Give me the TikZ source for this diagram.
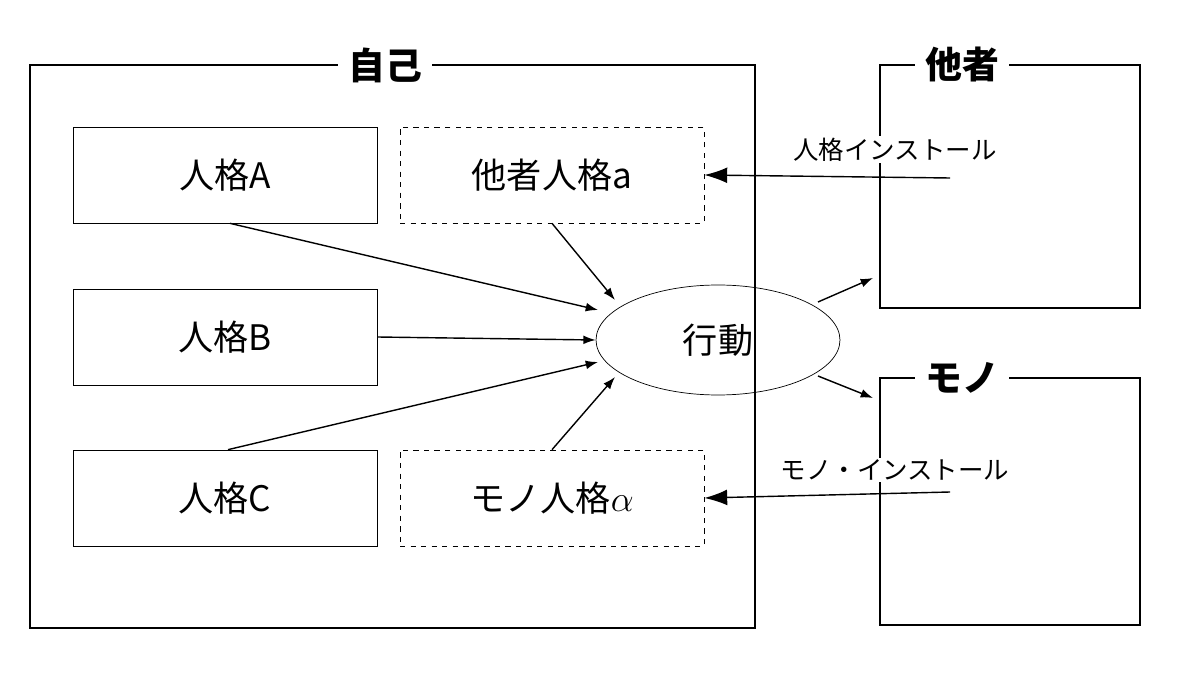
\documentclass[tikz,border=0pt]{standalone}
\usepackage{fontspec}
\newfontfamily\jp{Noto Sans CJK JP}
\usetikzlibrary{arrows,arrows.meta,shapes.geometric}
\tikzset{every picture/.style={
  >=latex'                      % LaTeX style arrows.
  }
}
\tikzset{
  persona/.style={draw,minimum width=6.08cm,minimum height=1.92cm,font=\jp\fontsize{20}{24}\selectfont},
  guest/.style={persona,dashed},
  frametitle/.style={fill=white,inner xsep=6pt,font=\jp\bfseries\fontsize{21}{24}\selectfont},
  install/.style={fill=white,inner sep=1pt,font=\jp\fontsize{14.5}{17}\selectfont},
  flow/.style={-{Latex[length=7pt,width=5pt]},thick},
  inject/.style={-{Latex[length=13pt,width=9pt]},thick},
}
\begin{document}
\begin{tikzpicture}[x=0.02cm,y=-0.02cm]
  \useasboundingbox (0,0) rectangle (1200,675);
  % frames
  \draw[thick] (30,65) rectangle (755,628);
  \draw[thick] (880,65) -- (1140,65) -- (1140,308) -- (880,308) -- cycle;
  \draw[thick] (880,378) -- (1140,378) -- (1140,625) -- (880,625) -- cycle;
  \node[frametitle] (self) at (385,65) {自己};
  \node[frametitle] (other) at (962,65) {他者};
  \node[frametitle] (thing) at (962,378) {モノ};
  % personas
  \node[persona] (pA) at (225,175) {人格A};
  \node[guest] (pa) at (552,175) {他者人格a};
  \node[persona] (pB) at (225,337) {人格B};
  \node[persona] (pC) at (225,498) {人格C};
  \node[guest] (palpha) at (552,498) {モノ人格$\alpha$};
  \node[draw,ellipse,minimum width=4.88cm,minimum height=2.2cm,
    font=\jp\fontsize{20}{24}\selectfont] (act) at (718,340) {行動};
  % installs
  \node[install] (instO) at (895,150) {人格インストール};
  \node[install] (instT) at (895,470) {モノ・インストール};
  \coordinate (srcO) at (950,178);
  \coordinate (srcT) at (950,492);
  \draw[inject] (srcO) -- (pa.east);
  \draw[inject] (srcT) -- (palpha.east);
  % influences
  \coordinate (inA) at (598,310);
  \coordinate (ina) at (615,300);
  \coordinate (inC) at (598,362);
  \coordinate (inalpha) at (615,377);
  \draw[flow] (pA.south) ++(5,0) -- (inA);
  \draw[flow] (pa.south) -- (ina);
  \draw[flow] (pB.east) -- (act.west);
  \draw[flow] (pC.north) ++(3,0) -- (inC);
  \draw[flow] (palpha.north) -- (inalpha);
  \coordinate (fromO) at (818,302);
  \coordinate (fromT) at (818,376);
  \coordinate (toO) at (873,278);
  \coordinate (toT) at (873,398);
  \draw[flow] (fromO) -- (toO);
  \draw[flow] (fromT) -- (toT);
\end{tikzpicture}
\end{document}
